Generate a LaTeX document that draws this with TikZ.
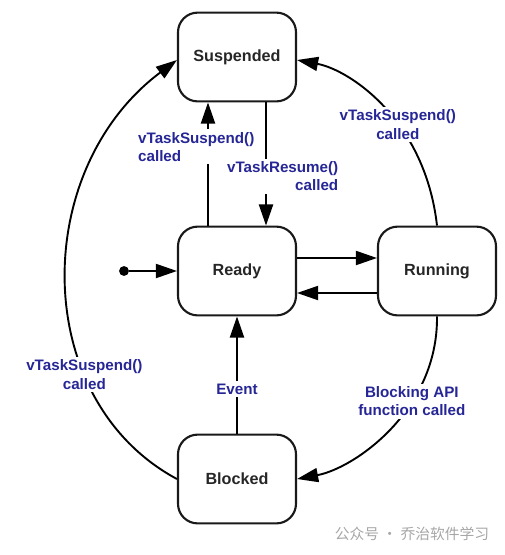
\documentclass[tikz,border=0pt]{standalone}
\usepackage{fontspec}
\setmainfont{Liberation Sans}
\newfontfamily\cjkfont{Noto Sans CJK SC}
\usetikzlibrary{positioning}
\usetikzlibrary{arrows.meta}
\definecolor{lblblue}{RGB}{38,38,150}

\begin{document}
\begin{tikzpicture} [
            state/.style={draw=black!90,line width=1.5pt,rectangle,rounded corners=14pt,minimum width=2.95cm,minimum height=2.22cm,text=black!85,font=\fontsize{11.5}{13}\selectfont\bfseries},
            trans/.style={-{Triangle[length=15pt,width=10pt]},line width=1.35pt},
            lbl/.style={fill=white,text=lblblue,inner sep=2pt,font=\fontsize{10.8}{13}\selectfont\bfseries},
         every node/.append style={align=center}]
\useasboundingbox (0,0) rectangle (12.6,-13.875);
\node (susp) at (5.925,-1.425) [state] {Suspended}
node (ready) at (5.925,-6.775) [state] {Ready}
node (run) at (10.925,-6.775) [state] {Running}
node (blk) at (5.925,-11.975) [state] {Blocked}
node (init) at (3.1,-6.775) [circle,fill=black,inner sep=0pt,minimum size=7pt] {}
node (wm) at (10.3,-13.35) [text=black!35,font=\cjkfont\fontsize{10.5}{12}\selectfont] {公众号 · 乔治软件学习}
 ;

% ready <-> running, start
\draw [trans] (init) -- (ready);
\draw [trans] ([yshift=0.325cm]ready.east) -- ([yshift=0.325cm]run.west);
\draw [trans] ([yshift=-0.55cm]run.west) -- ([yshift=-0.55cm]ready.east);

% ready <-> suspended
\draw [trans] ([xshift=-0.725cm]ready.north) -- node[lbl,pos=0.64,anchor=west,xshift=-1.84cm,align=left] {vTaskSuspend()\\called} ([xshift=-0.725cm]susp.south);
\draw [trans] ([xshift=0.725cm]susp.south) -- node[lbl,pos=0.6,anchor=east,xshift=1.9cm,align=right] {vTaskResume()\\called} ([xshift=0.725cm]ready.north);

% blocked -> ready
\draw [trans] (blk.north) -- node[lbl,pos=0.38] {Event} (ready.south);

% curves
\draw [trans] (run.north) .. controls (10.625,-3.0) and (8.75,-1.75) .. node[lbl,pos=0.4] {vTaskSuspend()\\called} ([yshift=-0.075cm]susp.east);
\draw [trans] (run.south) .. controls (10.95,-10.25) and (8.875,-11.7) .. node[lbl,pos=0.35] {Blocking API\\function called} (blk.east);
\draw [trans] (blk.west) .. controls (0.75,-10.0) and (0.75,-4.25) .. node[lbl,pos=0.3] {vTaskSuspend()\\called} ([yshift=-0.075cm]susp.west);
\end{tikzpicture}
\end{document}
